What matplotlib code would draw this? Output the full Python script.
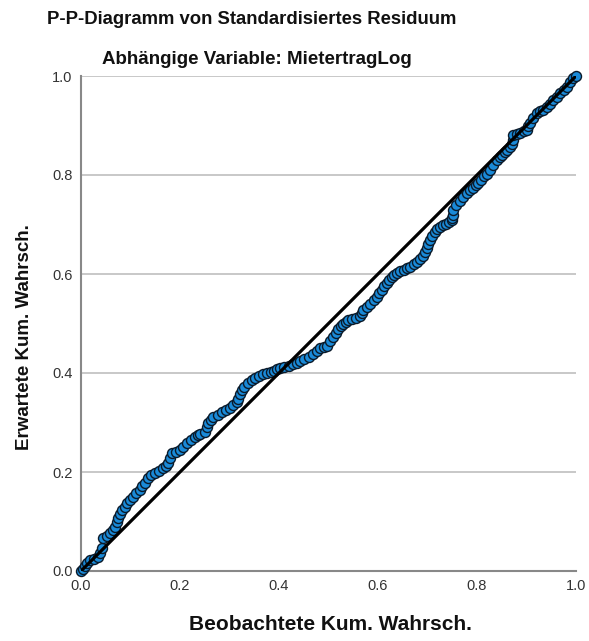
import matplotlib
matplotlib.use("Agg")
import matplotlib.pyplot as plt

plt.rcParams['font.family'] = ['Liberation Sans', 'DejaVu Sans']

title = "P-P-Diagramm von Standardisiertes Residuum"
subtitle = "Abhängige Variable: MietertragLog"
x_label = "Beobachtete Kum. Wahrsch."
y_label = "Erwartete Kum. Wahrsch."
ticks = [0.0, 0.2, 0.4, 0.6, 0.8, 1.0]
tick_labels = ["0.0", "0.2", "0.4", "0.6", "0.8", "1.0"]

observed = [0.000, 0.004, 0.008, 0.013, 0.018, 0.026, 0.034, 0.039, 0.042, 0.045, 0.052, 0.059, 0.064,
            0.069, 0.072, 0.075, 0.079, 0.083, 0.088, 0.093, 0.099, 0.105, 0.112, 0.119, 0.124, 0.129,
            0.135, 0.142, 0.149, 0.157, 0.166, 0.172, 0.176, 0.180, 0.184, 0.192, 0.200, 0.207, 0.214,
            0.222, 0.230, 0.236, 0.241, 0.251, 0.254, 0.257, 0.262, 0.267, 0.276, 0.285, 0.293, 0.301,
            0.308, 0.315, 0.318, 0.322, 0.326, 0.330, 0.338, 0.345, 0.352, 0.360, 0.368, 0.376, 0.383,
            0.390, 0.396, 0.402, 0.411, 0.420, 0.428, 0.436, 0.443, 0.450, 0.460, 0.469, 0.476, 0.483,
            0.490, 0.497, 0.503, 0.509, 0.515, 0.520, 0.525, 0.529, 0.535, 0.540, 0.548, 0.555, 0.564,
            0.567, 0.570, 0.577, 0.584, 0.591, 0.598, 0.603, 0.608, 0.613, 0.618, 0.623, 0.628, 0.633,
            0.638, 0.645, 0.652, 0.658, 0.665, 0.672, 0.679, 0.685, 0.690, 0.695, 0.699, 0.702, 0.705,
            0.710, 0.715, 0.720, 0.725, 0.731, 0.737, 0.743, 0.749, 0.750, 0.751, 0.752, 0.758, 0.765,
            0.772, 0.780, 0.786, 0.792, 0.797, 0.802, 0.808, 0.814, 0.820, 0.826, 0.833, 0.840, 0.846,
            0.851, 0.856, 0.861, 0.866, 0.871, 0.872, 0.873, 0.880, 0.887, 0.894, 0.900, 0.904,
            0.907, 0.914, 0.921, 0.927, 0.933, 0.941, 0.947, 0.954, 0.961, 0.968, 0.975, 0.982,
            0.988, 0.994, 1.000]
expected = [0.000, 0.004, 0.010, 0.016, 0.022, 0.025, 0.028, 0.036, 0.046, 0.066, 0.071, 0.077, 0.083,
            0.089, 0.098, 0.107, 0.115, 0.123, 0.130, 0.137, 0.144, 0.150, 0.157, 0.164, 0.171, 0.178,
            0.188, 0.193, 0.198, 0.203, 0.208, 0.213, 0.218, 0.228, 0.238, 0.241, 0.244, 0.251, 0.259,
            0.265, 0.271, 0.274, 0.276, 0.281, 0.290, 0.299, 0.305, 0.311, 0.316, 0.321, 0.325, 0.329,
            0.335, 0.341, 0.348, 0.358, 0.365, 0.372, 0.379, 0.386, 0.390, 0.393, 0.397, 0.400, 0.403,
            0.405, 0.408, 0.410, 0.413, 0.415, 0.418, 0.420, 0.424, 0.428, 0.433, 0.438, 0.444, 0.450,
            0.453, 0.455, 0.464, 0.473, 0.481, 0.488, 0.494, 0.500, 0.504, 0.507, 0.510, 0.512, 0.515,
            0.521, 0.527, 0.533, 0.540, 0.547, 0.554, 0.561, 0.568, 0.575, 0.582, 0.588, 0.594, 0.598,
            0.602, 0.606, 0.609, 0.612, 0.615, 0.620, 0.624, 0.630, 0.636, 0.644, 0.652, 0.660, 0.668,
            0.677, 0.685, 0.690, 0.695, 0.699, 0.702, 0.706, 0.709, 0.714, 0.720, 0.730, 0.739, 0.748,
            0.756, 0.764, 0.769, 0.774, 0.779, 0.784, 0.790, 0.797, 0.803, 0.810, 0.820, 0.830, 0.836,
            0.841, 0.846, 0.851, 0.856, 0.862, 0.871, 0.880, 0.883, 0.885, 0.888, 0.890, 0.898,
            0.905, 0.915, 0.925, 0.929, 0.932, 0.937, 0.944, 0.951, 0.958, 0.966, 0.972, 0.978,
            0.987, 0.995, 1.000]

fig = plt.figure(figsize=(5.89, 6.41), dpi=100)
ax = fig.add_axes([81/589, 70/641, 495/589, 495/641])

ax.set_xlim(0, 1)
ax.set_ylim(0, 1)
ax.yaxis.grid(True, color='#c8c8c8', linewidth=1.4)
ax.set_axisbelow(True)
ax.set_xticks(ticks)
ax.set_xticklabels(tick_labels)
ax.set_yticks(ticks)
ax.set_yticklabels(tick_labels)
ax.tick_params(axis='both', length=0, labelsize=10.5, labelcolor='#333333')
ax.tick_params(axis='x', pad=6)
ax.tick_params(axis='y', pad=6)

for s in ['top', 'right']:
    ax.spines[s].set_visible(False)
for s in ['left', 'bottom']:
    ax.spines[s].set_color('#888888')
    ax.spines[s].set_linewidth(1.5)

ax.scatter(observed, expected, s=52, c='#1a8ad8', edgecolors='#0a1a2a',
           linewidths=1.0, zorder=3, clip_on=False)
ax.plot([ticks[0], ticks[-1]], [ticks[0], ticks[-1]], color='black', linewidth=2.3,
        zorder=4, solid_capstyle='butt')

fig.text(252/589, 1 - 19/641, title, ha='center', va='center', fontsize=13.3,
         fontweight='bold', color='#111111')
fig.text(257/589, 1 - 60/641, subtitle, ha='center', va='center', fontsize=13.5,
         fontweight='bold', color='#111111')
fig.text(330/589, 1 - 625/641, x_label, ha='center', va='center', fontsize=15,
         fontweight='bold', color='#111111')
fig.text(25/589, 1 - 337/641, y_label, ha='center', va='center', fontsize=13.5,
         fontweight='bold', color='#111111', rotation=90)

fig.savefig('out.png', dpi=100)
